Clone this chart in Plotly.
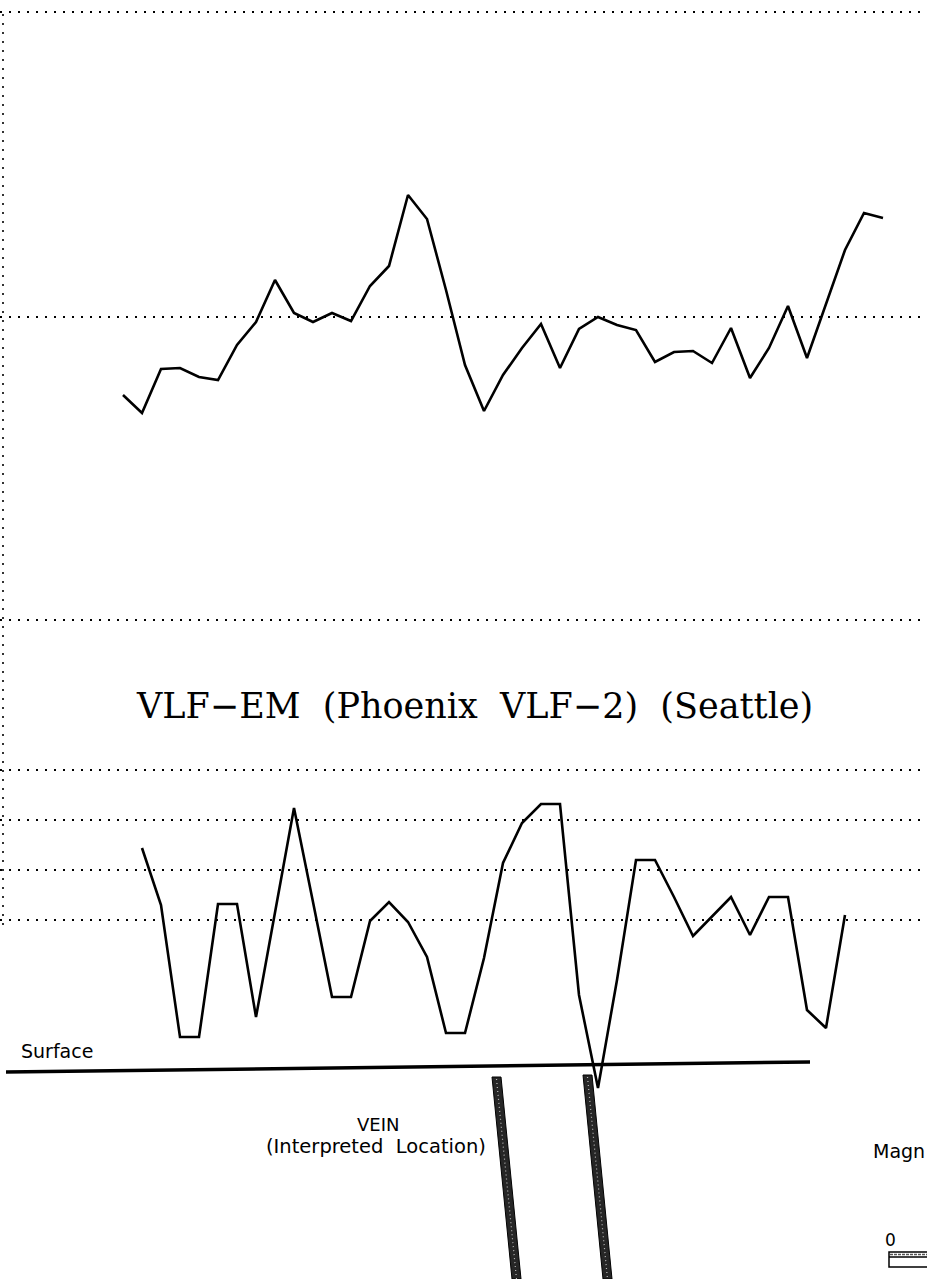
import plotly.graph_objects as go

# ---------------- data ----------------
# Upper profile (stations 0..40), relative field values
top_station = list(range(41))
top_values = [-78, -96, -52, -51, -60, -63, -28, -5, 37, 4,
              -5, 4, -4, 31, 51, 122, 98, 27, -48, -94,
              -58, -31, -7, -51, -12, 0, -8, -13, -45, -35,
              -34, -46, -11, -61, -31, 11, -41, 12, 67, 104, 99]

# Lower profile: VLF-EM (stations 1..38), percent
bottom_station = list(range(1, 39))
bottom_values = [14.4, 3.0, -23.4, -23.4, 3.2, 3.2, -19.4, 1.6, 22.4, 3.6,
                 -15.4, -15.4, -0.2, 3.6, -0.4, -7.4, -22.6, -22.6, -7.6, 11.4,
                 19.4, 23.2, 23.2, -15.0, -33.6, -12.0, 12.0, 12.0, 4.6, -3.2,
                 0.6, 4.6, -3.0, 4.6, 4.6, -18.0, -21.6, 1.0]

top_grid = [305, 0, -303]
bottom_grid = [30, 20, 10, 0]

title_text = "VLF\u2212EM  (Phoenix  VLF\u22122)  (Seattle)"

W, H = 927, 1279


def px(x):
    return x / W


def py(y):
    return 1 - y / H


fig = go.Figure()
fig.add_trace(go.Scatter(x=top_station, y=top_values, mode="lines",
                         line=dict(color="black", width=2.6),
                         yaxis="y", hoverinfo="skip", showlegend=False))
fig.add_trace(go.Scatter(x=bottom_station, y=bottom_values, mode="lines",
                         line=dict(color="black", width=2.6),
                         yaxis="y2", hoverinfo="skip", showlegend=False))

dots = "2px,7px"
grid_common = dict(showgrid=True, gridcolor="black", gridwidth=1.6, griddash=dots,
                   showticklabels=False, ticks="", zeroline=False, showline=False,
                   fixedrange=True)

# x: station 0 at px 123, 19 px per station
x0 = -123 / 19
x1 = (W - 123) / 19
fig.update_layout(
    width=W, height=H,
    margin=dict(l=0, r=0, t=0, b=0),
    paper_bgcolor="white", plot_bgcolor="white",
    xaxis=dict(range=[x0, x1], visible=False, fixedrange=True),
    yaxis=dict(range=[317 - H, 317], tickvals=top_grid, **grid_common),
    yaxis2=dict(range=[(920 - H) / 5, 920 / 5], tickvals=bottom_grid,
                overlaying="y", **grid_common),
)

shapes = []
# left dotted frame line
shapes.append(dict(type="line", xref="paper", yref="paper",
                   x0=px(3), x1=px(3), y0=py(14), y1=py(926),
                   line=dict(color="black", width=1.6, dash=dots)))
# surface line
shapes.append(dict(type="line", xref="paper", yref="paper",
                   x0=px(6), x1=px(810), y0=py(1072), y1=py(1062),
                   line=dict(color="black", width=3.5)))
# vein bars
for (tl, tr, br, bl) in [((492, 1077), (501, 1077), (521, 1279), (512, 1279)),
                         ((583, 1075), (592, 1075), (612, 1279), (603, 1279))]:
    path = "M {} {} L {} {} L {} {} L {} {} Z".format(
        px(tl[0]), py(tl[1]), px(tr[0]), py(tr[1]),
        px(br[0]), py(br[1]), px(bl[0]), py(bl[1]))
    shapes.append(dict(type="path", xref="paper", yref="paper", path=path,
                       fillcolor="#262626", line=dict(color="black", width=1)))
    mx0 = (tl[0] + tr[0]) / 2
    mx1 = (bl[0] + br[0]) / 2
    shapes.append(dict(type="line", xref="paper", yref="paper",
                       x0=px(mx0), x1=px(mx1), y0=py(tl[1] + 2), y1=py(1279),
                       line=dict(color="#bbbbbb", width=1.2, dash="1px,3px")))

# scale bar at bottom right
shapes.append(dict(type="rect", xref="paper", yref="paper",
                   x0=px(889), x1=px(930), y0=py(1267), y1=py(1252),
                   line=dict(color="black", width=1.5), fillcolor="white"))
shapes.append(dict(type="line", xref="paper", yref="paper",
                   x0=px(889), x1=px(930), y0=py(1257), y1=py(1257),
                   line=dict(color="black", width=1.5)))
shapes.append(dict(type="line", xref="paper", yref="paper",
                   x0=px(890), x1=px(930), y0=py(1254.5), y1=py(1254.5),
                   line=dict(color="#555555", width=1.5, dash="3px,1px")))
fig.update_layout(shapes=shapes)

sans = "DejaVu Sans"
ann = [
    dict(text=title_text, x=px(474), y=py(706), xanchor="center", yanchor="middle",
         font=dict(family="DejaVu Serif", size=35, color="black")),
    dict(text="Surface", x=px(19), y=py(1051), xanchor="left", yanchor="middle",
         font=dict(family=sans, size=19, color="black")),
    dict(text="VEIN", x=px(378), y=py(1124), xanchor="center", yanchor="middle",
         font=dict(family=sans, size=18, color="black")),
    dict(text="(Interpreted  Location)", x=px(376), y=py(1146), xanchor="center",
         yanchor="middle", font=dict(family=sans, size=19.5, color="black")),
    dict(text="Magn", x=px(871), y=py(1151), xanchor="left", yanchor="middle",
         font=dict(family=sans, size=19, color="black")),
    dict(text="0", x=px(890), y=py(1240), xanchor="center", yanchor="middle",
         font=dict(family=sans, size=17, color="black")),
]
for a in ann:
    a.update(xref="paper", yref="paper", showarrow=False)
fig.update_layout(annotations=ann)

fig.write_html("out.html", config={"displayModeBar": False},
               post_script="document.body.style.margin='0';document.body.style.overflow='hidden';")
